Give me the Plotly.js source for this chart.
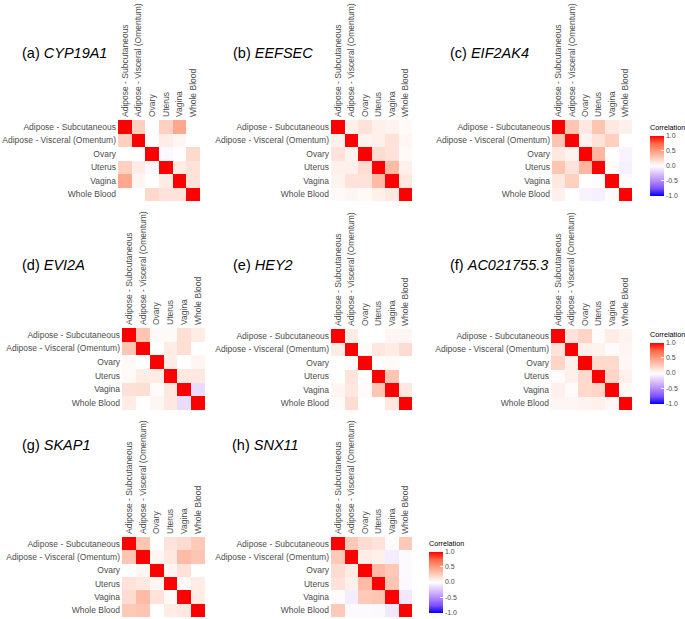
<!DOCTYPE html>
<html>
<head>
<meta charset="utf-8">
<script src="https://cdn.plot.ly/plotly-3.0.1.min.js"></script>
<style>html,body{margin:0;padding:0;background:#fff;}#chart{width:685px;height:619px;}</style>
</head>
<body>
<div id="chart"></div>
<script>
// ---- data ----
var tissues = ["Adipose - Subcutaneous", "Adipose - Visceral (Omentum)", "Ovary", "Uterus", "Vagina", "Whole Blood"];
var panelLabels = ["(a)", "(b)", "(c)", "(d)", "(e)", "(f)", "(g)", "(h)"];
var genes = ["CYP19A1", "EEFSEC", "EIF2AK4", "EVI2A", "HEY2", "AC021755.3", "SKAP1", "SNX11"];
var colorbarTickVals = [-1, -0.5, 0, 0.5, 1];
var colorbarTickText = ["-1.0", "-0.5", "0.0", "0.5", "1.0"];

var CYP19A1 = [
  [1, 0.25, 0, 0.25, 0.45, 0],
  [0.25, 1, 0, 0.1, 0.05, 0],
  [0, 0, 1, -0.03, 0, 0.2],
  [0.25, 0.1, -0.03, 1, 0.1, 0.15],
  [0.45, 0.05, 0, 0.1, 1, 0.15],
  [0, 0, 0.2, 0.15, 0.15, 1]
];
var EEFSEC = [
  [1, 0.08, 0.15, 0.08, 0.06, 0.03],
  [0.08, 1, 0.06, 0.08, 0.15, 0.05],
  [0.15, 0.06, 1, 0.18, 0.15, 0.03],
  [0.08, 0.08, 0.18, 1, 0.35, 0.08],
  [0.06, 0.15, 0.15, 0.35, 1, 0.12],
  [0.03, 0.05, 0.03, 0.08, 0.12, 1]
];
var EIF2AK4 = [
  [1, 0.3, 0.12, 0.3, 0.12, 0.08],
  [0.3, 1, 0.06, 0.15, 0.25, 0],
  [0.12, 0.06, 1, 0.38, 0, -0.05],
  [0.3, 0.15, 0.38, 1, 0.02, -0.06],
  [0.12, 0.25, 0, 0.02, 1, 0.02],
  [0.08, 0, -0.05, -0.06, 0.02, 1]
];
var EVI2A = [
  [1, 0.3, 0.03, 0.03, 0.16, 0.1],
  [0.3, 1, 0, 0.1, 0.17, 0],
  [0.03, 0, 1, 0.1, 0, 0.05],
  [0.03, 0.1, 0.1, 1, 0.12, 0.12],
  [0.16, 0.17, 0.02, 0.12, 1, -0.15],
  [0.1, 0, 0.05, 0.12, -0.15, 1]
];
var HEY2 = [
  [1, 0.1, 0, 0, 0.05, 0.05],
  [0.1, 1, 0.02, 0.13, 0.1, 0.18],
  [0, 0.02, 1, 0, 0.02, 0],
  [0, 0.14, 0, 1, 0.3, 0],
  [0.05, 0.12, 0.02, 0.3, 1, 0.12],
  [0.02, 0.18, 0, 0, 0.12, 1]
];
var AC021755_3 = [
  [1, 0.15, 0.22, 0.02, 0.1, 0.06],
  [0.15, 1, 0.08, 0.06, 0.02, 0.05],
  [0.22, 0.08, 1, 0.2, 0.2, 0.04],
  [0.02, 0.08, 0.2, 1, 0.22, 0.08],
  [0.08, 0.02, 0.2, 0.22, 1, 0.03],
  [0.05, 0.05, 0.06, 0.08, 0.04, 1]
];
var SKAP1 = [
  [1, 0.3, 0, 0.15, 0.18, 0.28],
  [0.3, 1, 0.05, 0.12, 0.35, 0.3],
  [0, 0.05, 1, 0.05, 0.15, 0],
  [0.15, 0.12, 0.05, 1, 0.04, 0.1],
  [0.18, 0.35, 0.15, 0.03, 1, 0.1],
  [0.28, 0.3, 0, 0.1, 0.12, 1]
];
var SNX11 = [
  [1, 0.28, 0.18, 0.15, 0.02, 0.28],
  [0.28, 1, 0.1, 0.08, -0.08, -0.02],
  [0.18, 0.1, 1, 0.35, 0.28, -0.02],
  [0.15, 0.08, 0.35, 1, 0.3, -0.03],
  [0.02, -0.08, 0.28, 0.3, 1, -0.1],
  [0.28, -0.02, -0.02, -0.03, -0.1, 1]
];
var matrices = [CYP19A1, EEFSEC, EIF2AK4, EVI2A, HEY2, AC021755_3, SKAP1, SNX11];

// ---- layout geometry (pixels) ----
var W = 685, H = 619;
var boxes = [
  [118, 120, 200, 201], [331, 120, 412, 201], [552, 120, 632, 201],
  [122, 328, 205, 410], [331, 329, 412, 410], [551, 329, 632, 410],
  [122, 537, 205, 617], [331, 537, 412, 617]
];
var titlePos = [
  [20, 53], [231, 53], [448, 53],
  [20, 265], [231, 265], [448, 265],
  [20, 445], [230, 445]
];
var colorbars = {2: [650, 121.5, 74], 5: [650, 328.5, 75], 7: [429, 537.5, 75]};

var colorscale = [
  [0, 'rgb(0,0,255)'], [0.125, 'rgb(126,81,255)'], [0.25, 'rgb(179,139,255)'],
  [0.375, 'rgb(220,196,255)'], [0.5, 'rgb(255,255,255)'], [0.625, 'rgb(255,207,191)'],
  [0.75, 'rgb(255,158,129)'], [0.875, 'rgb(255,104,70)'], [1, 'rgb(255,0,0)']
];

var FONT = 'Liberation Sans, Arial, sans-serif';
var data = [], annotations = [];
var layout = {
  width: W, height: H,
  margin: {l: 0, r: 0, t: 0, b: 0},
  paper_bgcolor: '#fff', plot_bgcolor: '#fff',
  font: {family: FONT, color: '#4D4D4D'},
  showlegend: false
};

for (var i = 0; i < matrices.length; i++) {
  var b = boxes[i];
  var sfx = (i === 0 ? '' : String(i + 1));
  var trace = {
    type: 'heatmap',
    z: matrices[i], x: tissues, y: tissues,
    xaxis: 'x' + sfx, yaxis: 'y' + sfx,
    zmin: -1, zmax: 1, colorscale: colorscale,
    showscale: false, hoverinfo: 'skip'
  };
  if (colorbars[i]) {
    var cb = colorbars[i];
    trace.showscale = true;
    trace.colorbar = {
      x: cb[0] / W, xanchor: 'left', xpad: 0,
      y: 1 - cb[1] / H, yanchor: 'top', ypad: 0,
      len: cb[2], lenmode: 'pixels', thickness: 14, thicknessmode: 'pixels',
      outlinewidth: 0,
      tickvals: colorbarTickVals, ticktext: colorbarTickText,
      ticks: 'inside', ticklen: 3, tickcolor: '#fff', tickwidth: 1,
      tickfont: {family: FONT, size: 7, color: '#4D4D4D'},
      title: {text: 'Correlation', side: 'top', font: {family: FONT, size: 7.2, color: '#000'}}
    };
  }
  data.push(trace);
  layout['xaxis' + sfx] = {
    domain: [b[0] / W, b[2] / W], anchor: 'y' + sfx,
    side: 'top', type: 'category', tickangle: -90,
    showgrid: false, zeroline: false, showline: false, ticks: '',
    ticklabelstandoff: 2,
    tickfont: {family: FONT, size: 8.5, color: '#4D4D4D'},
    automargin: false, fixedrange: true
  };
  layout['yaxis' + sfx] = {
    domain: [1 - b[3] / H, 1 - b[1] / H], anchor: 'x' + sfx,
    type: 'category', autorange: 'reversed',
    showgrid: false, zeroline: false, showline: false, ticks: '',
    ticklabelstandoff: 1,
    tickfont: {family: FONT, size: 8.5, color: '#4D4D4D'},
    automargin: false, fixedrange: true
  };
  annotations.push({
    xref: 'paper', yref: 'paper',
    x: titlePos[i][0] / W, y: 1 - titlePos[i][1] / H,
    xanchor: 'left', yanchor: 'middle', showarrow: false,
    text: panelLabels[i] + ' <i>' + genes[i] + '</i>',
    font: {family: FONT, size: 14.5, color: '#000'}
  });
}
layout.annotations = annotations;

Plotly.newPlot('chart', data, layout, {displayModeBar: false, staticPlot: true});
</script>
</body>
</html>
